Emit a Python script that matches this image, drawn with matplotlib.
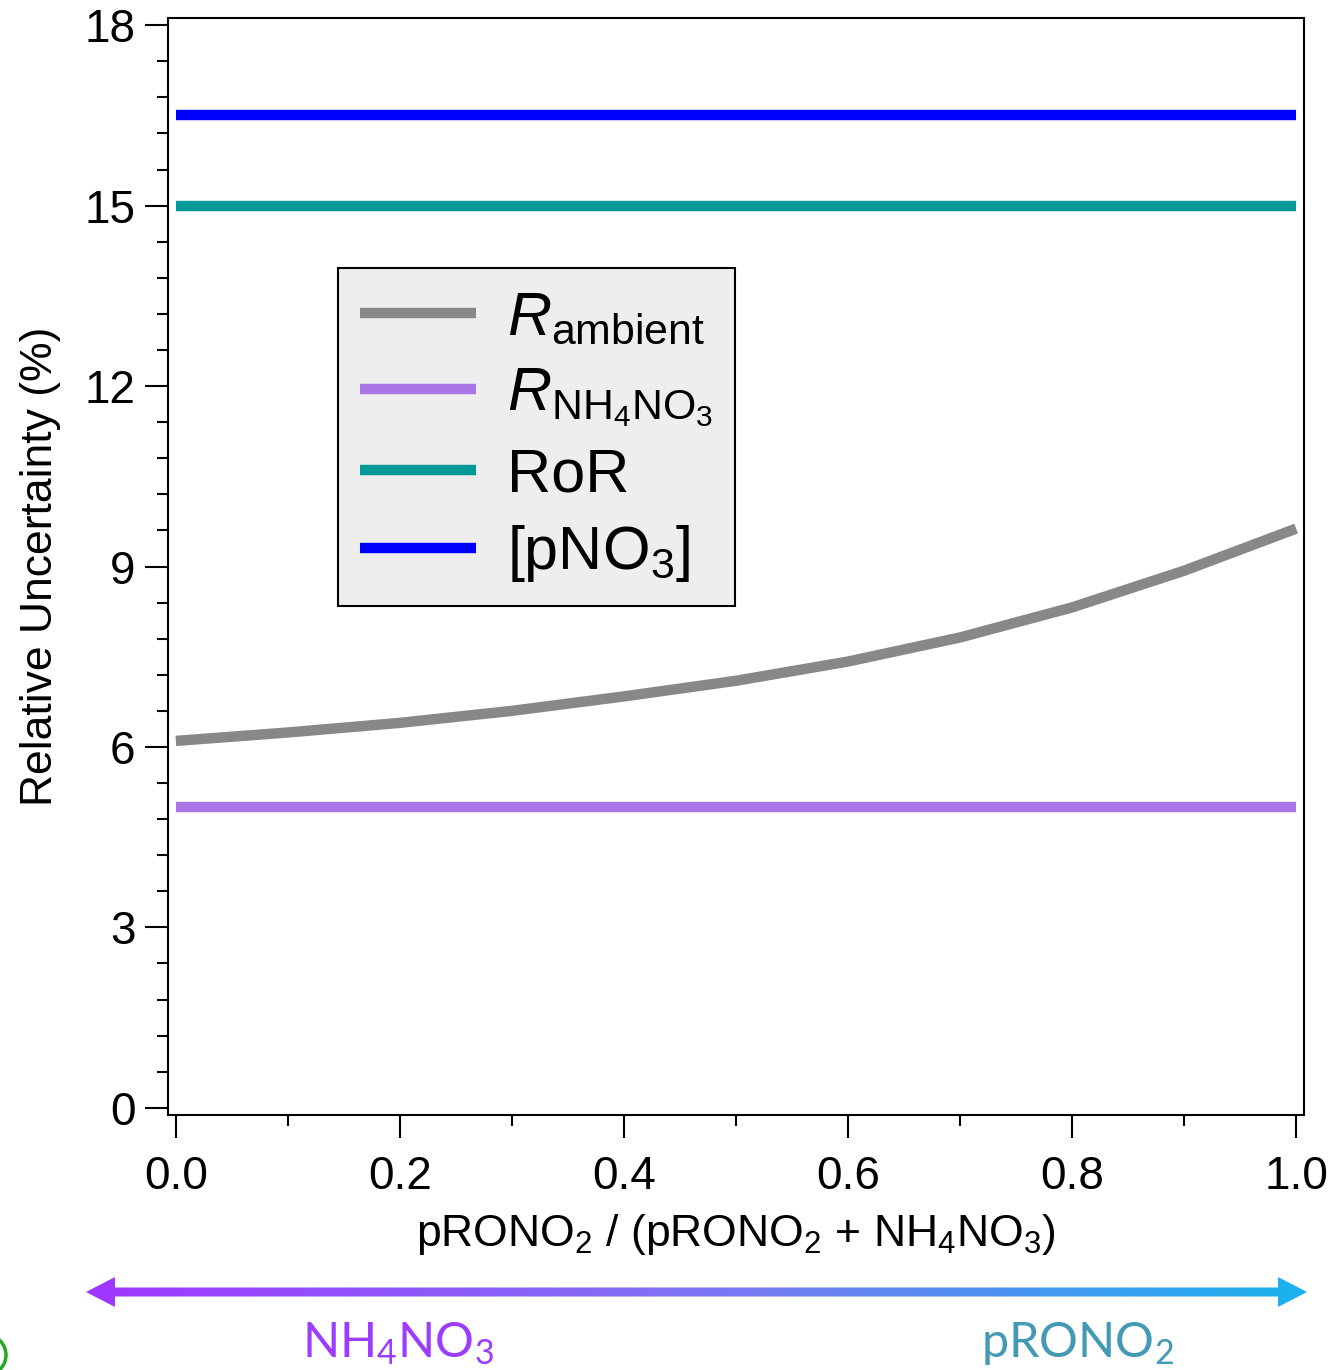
import numpy as np
import matplotlib.pyplot as plt
from matplotlib.patches import Polygon, Circle
from matplotlib.ticker import MultipleLocator
from matplotlib.colors import LinearSegmentedColormap

plt.rcParams['font.family'] = ['Liberation Sans', 'DejaVu Sans']
plt.rcParams['mathtext.fontset'] = 'custom'
plt.rcParams['mathtext.rm'] = 'Liberation Sans'
plt.rcParams['mathtext.it'] = 'Liberation Sans:italic'

# data
frac = [0.0, 0.1, 0.2, 0.3, 0.4, 0.5, 0.6, 0.7, 0.8, 0.9, 1.0]
r_ambient = [6.10, 6.24, 6.40, 6.60, 6.84, 7.10, 7.42, 7.82, 8.32, 8.93, 9.63]
r_nh4no3 = 5.0
ror = 15.0
pno3 = 16.5

labels = [r'$\mathit{R}_{\mathrm{ambient}}$',
          r'$\mathit{R}_{\mathrm{NH_4NO_3}}$',
          'RoR',
          r'[pNO$_3$]']
colors = ['#888888', '#a974e6', '#009999', '#0000ff']

W, H = 1331, 1370
fig = plt.figure(figsize=(W / 100, H / 100), dpi=100)
ax = fig.add_axes([168 / W, 1 - 1115 / H, (1304 - 168) / W, (1115 - 18) / H])

x2 = [0.0, 1.0]
lw = 7.5
ax.plot(frac, r_ambient, color=colors[0], lw=lw, solid_capstyle='butt',
        solid_joinstyle='round', label=labels[0])
ax.plot(x2, [r_nh4no3] * 2, color=colors[1], lw=lw, solid_capstyle='butt', label=labels[1])
ax.plot(x2, [ror] * 2, color=colors[2], lw=lw, solid_capstyle='butt', label=labels[2])
ax.plot(x2, [pno3] * 2, color=colors[3], lw=lw, solid_capstyle='butt', label=labels[3])

ax.set_xlim(-0.007, 1.007)
ax.set_ylim(-0.12, 18.12)
ax.xaxis.set_major_locator(MultipleLocator(0.2))
ax.xaxis.set_minor_locator(MultipleLocator(0.1))
ax.yaxis.set_major_locator(MultipleLocator(3))
ax.yaxis.set_minor_locator(MultipleLocator(0.6))
ax.xaxis.set_major_formatter(plt.FormatStrFormatter('%.1f'))
ax.tick_params(which='both', direction='out', width=1.5, labelsize=33)
ax.tick_params(which='major', length=16.5)
ax.tick_params(which='minor', length=8)
ax.tick_params(axis='x', pad=12)
ax.tick_params(axis='y', pad=7)
for s in ax.spines.values():
    s.set_linewidth(1.5)

ax.set_xlabel(r'pRONO$_2$ / (pRONO$_2$ + NH$_4$NO$_3$)', fontsize=32, labelpad=10)
ax.set_ylabel('Relative Uncertainty (%)', fontsize=32, labelpad=17)

leg = ax.legend(loc='upper left', bbox_to_anchor=((338 - 168) / (1304 - 168), 1 - (268 - 18) / (1115 - 18)),
                fontsize=44, frameon=True, fancybox=False, handlelength=1.9,
                handletextpad=0.5, labelspacing=0.31, borderpad=0.36, borderaxespad=0)
leg.get_frame().set_facecolor('#eeeeee')
leg.get_frame().set_edgecolor('black')
leg.get_frame().set_linewidth(1.5)
leg.get_frame().set_alpha(1)

# bottom gradient arrow, in pixel coordinates
ov = fig.add_axes([0, 0, 1, 1])
ov.axis('off')
yc = 1292
arrow = Polygon([(86, yc), (115, yc - 15), (115, yc - 4.5), (1278, yc - 4.5), (1278, yc - 15),
                 (1307, yc), (1278, yc + 15), (1278, yc + 4.5), (115, yc + 4.5), (115, yc + 15)],
                closed=True, facecolor='none', edgecolor='none')
ov.add_patch(arrow)
grad = np.linspace(0, 1, 256).reshape(1, -1)
cmap = LinearSegmentedColormap.from_list('arr', ['#a037ff', '#7f74f4', '#19b2ee'])
im = ov.imshow(grad, extent=(86, 1307, yc + 16, yc - 16), cmap=cmap, aspect='auto')
im.set_clip_path(arrow)
ov.set_xlim(0, W)
ov.set_ylim(H, 0)

ov.text(398, 1357, r'NH$_\mathdefault{4}$NO$_\mathdefault{3}$', color='#9b3cff', fontsize=35,
        family='Lato', ha='center', va='baseline')
ov.text(1078, 1357, r'pRONO$_\mathdefault{2}$', color='#4499b4', fontsize=35,
        family='Lato', ha='center', va='baseline')
ov.add_patch(Circle((-14, 1355), 20, facecolor='none', edgecolor='#22aa22', lw=2.5))

fig.savefig('out.png', dpi=100)
